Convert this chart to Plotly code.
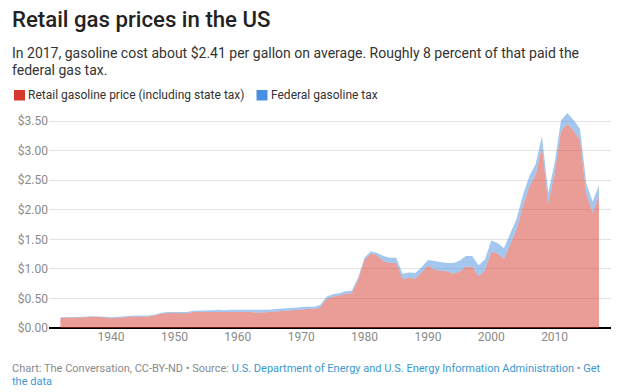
import plotly.graph_objects as go

years = list(range(1932, 2018))
total_price = [
    0.18, 0.18, 0.19, 0.19, 0.19, 0.20, 0.20, 0.19,            # 1932-1939
    0.18, 0.19, 0.20, 0.21, 0.21, 0.21, 0.21, 0.23, 0.26, 0.27,  # 1940-1949
    0.27, 0.27, 0.27, 0.29, 0.29, 0.29, 0.30, 0.31, 0.30, 0.31,  # 1950-1959
    0.31, 0.31, 0.31, 0.30, 0.30, 0.31, 0.32, 0.33, 0.34, 0.35,  # 1960-1969
    0.36, 0.36, 0.36, 0.39, 0.53, 0.57, 0.59, 0.62, 0.63, 0.86,  # 1970-1979
    1.19, 1.30, 1.27, 1.22, 1.19, 1.19, 0.92, 0.94, 0.93, 1.03,  # 1980-1989
    1.15, 1.13, 1.11, 1.10, 1.10, 1.14, 1.22, 1.22, 1.06, 1.16,  # 1990-1999
    1.48, 1.44, 1.35, 1.59, 1.85, 2.25, 2.57, 2.77, 3.25, 2.29,  # 2000-2009
    2.79, 3.51, 3.64, 3.52, 3.37, 2.45, 2.14, 2.41,              # 2010-2017
]
federal_tax = (
    [0.010] * 8 +        # 1932-1939
    [0.015] * 11 +       # 1940-1950
    [0.020] * 5 +        # 1951-1955
    [0.030] * 3 +        # 1956-1958
    [0.040] * 24 +       # 1959-1982
    [0.090] * 4 +        # 1983-1986
    [0.091] * 4 +        # 1987-1990
    [0.141] * 3 +        # 1991-1993
    [0.184] * 24         # 1994-2017
)
retail_ex_fed = [round(t - f, 3) for t, f in zip(total_price, federal_tax)]

series_names = ["Retail gasoline price (including state tax)", "Federal gasoline tax"]
y_ticks = [0, 0.5, 1.0, 1.5, 2.0, 2.5, 3.0, 3.5]
y_tick_labels = ["$0.00", "$0.50", "$1.00", "$1.50", "$2.00", "$2.50", "$3.00", "$3.50"]
x_ticks = [1940, 1950, 1960, 1970, 1980, 1990, 2000, 2010]

RED = "#d63a2f"
BLUE = "#4a90e2"

W, H = 631, 392
L, R, T, B = 49, 20, 107, 64
PW, PH = W - L - R, H - T - B

def px(x):
    return (x - L) / PW

def py(y):
    return 1 - (y - T) / PH

fig = go.Figure()
fig.add_trace(go.Scatter(
    x=years, y=retail_ex_fed, name=series_names[0], stackgroup="one",
    mode="lines", line=dict(width=0, color=RED), fillcolor="rgba(214,58,47,0.5)",
    showlegend=False, hoverinfo="x+y"))
fig.add_trace(go.Scatter(
    x=years, y=federal_tax, name=series_names[1], stackgroup="one",
    mode="lines", line=dict(width=0, color=BLUE), fillcolor="rgba(74,144,226,0.5)",
    showlegend=False, hoverinfo="x+y"))

font = "Roboto, Arial, sans-serif"
ann = []
ann.append(dict(text="Retail gas prices in the US", x=px(10), y=py(19), xanchor="left", yanchor="middle",
                font=dict(family=font, size=22.2, color="#222222", weight=500)))
ann.append(dict(text="In 2017, gasoline cost about $2.41 per gallon on average. Roughly 8 percent of that paid the",
                x=px(10), y=py(52.5), xanchor="left", yanchor="middle",
                font=dict(family=font, size=14, color="#333333")))
ann.append(dict(text="federal gas tax.", x=px(10), y=py(70.5), xanchor="left", yanchor="middle",
                font=dict(family=font, size=14, color="#333333")))
ann.append(dict(text=series_names[0], x=px(26), y=py(95.5), xanchor="left", yanchor="middle",
                font=dict(family=font, size=12, color="#333333")))
ann.append(dict(text=series_names[1], x=px(269), y=py(95.5), xanchor="left", yanchor="middle",
                font=dict(family=font, size=12, color="#333333")))
link = "#3b98d5"
grey = "#8a8a8a"
ann.append(dict(text=("<span style='color:%s'>Chart: The Conversation, CC-BY-ND • Source: </span>"
                      "<span style='color:%s'>U.S. Department of Energy and U.S. Energy Information Administration</span>"
                      "<span style='color:%s'> • </span><span style='color:%s'>Get</span>") % (grey, link, grey, link),
                x=px(10), y=py(368.5), xanchor="left", yanchor="middle",
                font=dict(family=font, size=11, color=grey)))
ann.append(dict(text="the data", x=px(10), y=py(381.5), xanchor="left", yanchor="middle",
                font=dict(family=font, size=11, color=link)))
for a in ann:
    a.update(xref="paper", yref="paper", showarrow=False)

shapes = [
    dict(type="rect", xref="paper", yref="paper", x0=px(14), x1=px(25), y0=py(90), y1=py(100.5),
         fillcolor=RED, line=dict(width=0)),
    dict(type="rect", xref="paper", yref="paper", x0=px(256.5), x1=px(267.5), y0=py(90), y1=py(100.5),
         fillcolor=BLUE, line=dict(width=0)),
]

fig.update_layout(
    width=W, height=H, margin=dict(l=L, r=R, t=T, b=B),
    paper_bgcolor="white", plot_bgcolor="white",
    annotations=ann, shapes=shapes, showlegend=False,
    font=dict(family=font),
    xaxis=dict(range=[1930.2, 2018.9], tickvals=x_ticks, showgrid=False, zeroline=False,
               showline=False, ticks="", tickfont=dict(size=12, color="#8a8a8a")),
    yaxis=dict(range=[0, 3.74], tickvals=y_ticks, ticktext=y_tick_labels,
               showgrid=True, gridcolor="#e2e2e2", gridwidth=1,
               zeroline=True, zerolinecolor="#000000", zerolinewidth=1.5,
               ticks="", tickfont=dict(size=12, color="#8a8a8a")),
)

fig.write_html("out.html", config={"displayModeBar": False},
               post_script="document.body.style.margin='0';document.body.style.padding='0';")
